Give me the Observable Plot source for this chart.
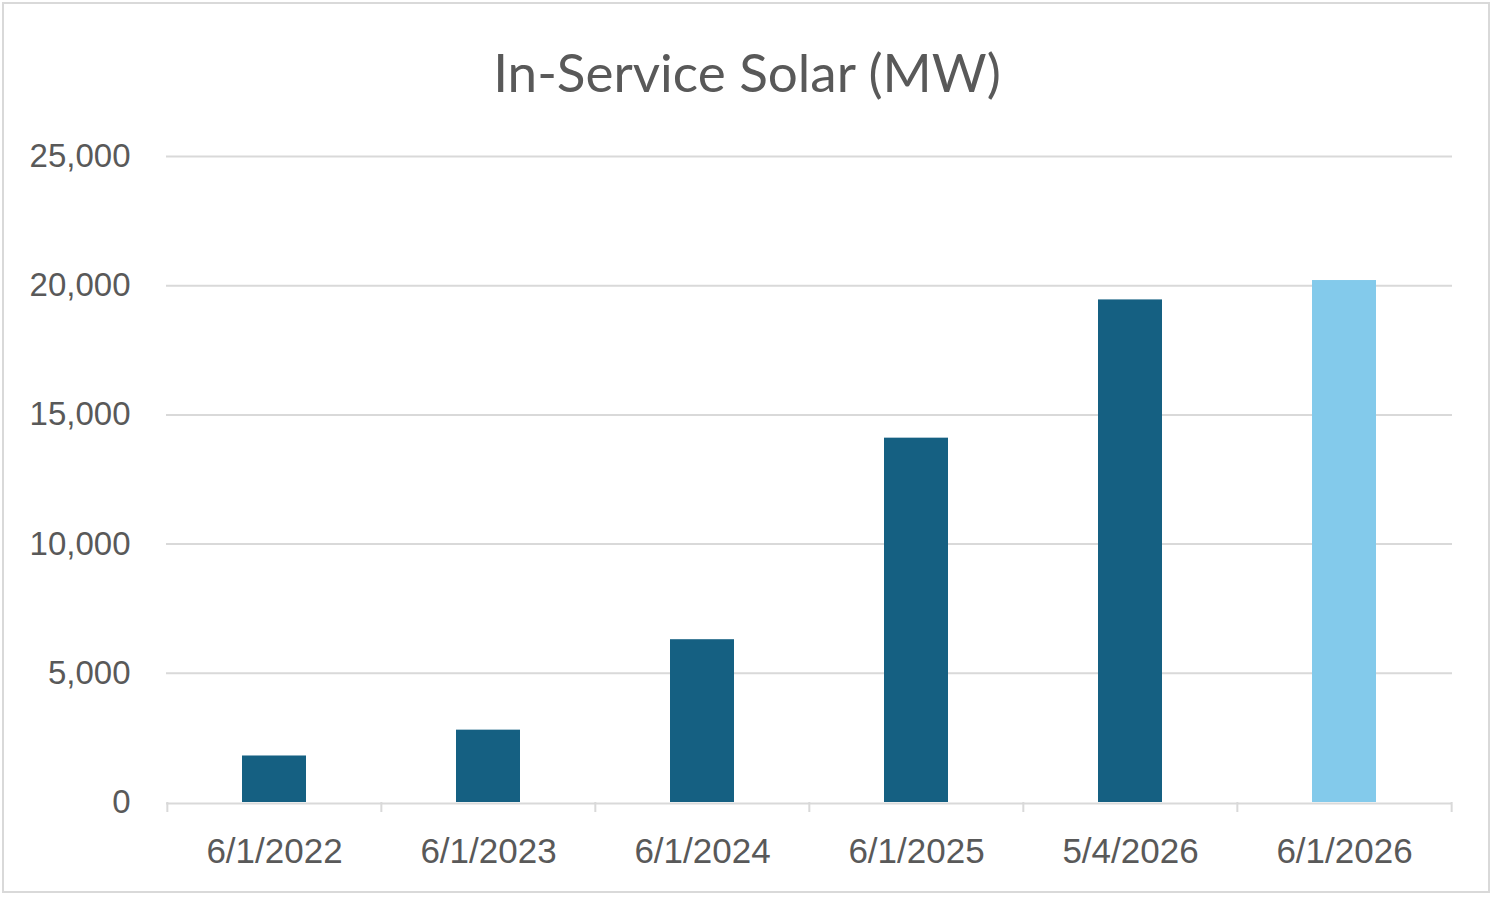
<!DOCTYPE html>
<html>
<head>
<meta charset="utf-8">
<script src="https://cdn.jsdelivr.net/npm/d3@7"></script>
<script src="https://cdn.jsdelivr.net/npm/@observablehq/plot@0.6"></script>
<style>
  html, body { margin: 0; padding: 0; background: #fff; }
  #wrap { position: relative; width: 1494px; height: 897px; overflow: hidden; background: #fff; }
  #title { height: 120px; box-sizing: border-box; padding-top: 45px; text-align: center;
           font-family: Lato, "Noto Sans", sans-serif; font-size: 53px; line-height: 53px; color: #595959; }
  #frame { position: absolute; left: 2px; top: 2px; width: 1488px; height: 891px; box-sizing: border-box;
           border: 2px solid #d9d9d9; pointer-events: none; }
</style>
</head>
<body>
<div id="wrap">
  <div id="title">In-Service Solar (MW)</div>
  <div id="chart"></div>
  <div id="frame"></div>
</div>
<script>
const categories = ["6/1/2022", "6/1/2023", "6/1/2024", "6/1/2025", "5/4/2026", "6/1/2026"];
const values = [1800, 2800, 6300, 14100, 19450, 20200];
const kinds = ["actual", "actual", "actual", "actual", "actual", "projected"];
const yTicks = [0, 5000, 10000, 15000, 20000, 25000];

const data = categories.map((c, i) => ({cat: c, value: values[i], kind: kinds[i]}));

const W = 1494, H = 777, mL = 166, mR = 42, mT = 36, mB = 95;
const step = (W - mL - mR) / categories.length;
const grey = "#d9d9d9", textGrey = "#595959";

const chart = Plot.plot({
  width: W, height: H,
  marginTop: mT, marginBottom: mB, marginLeft: mL, marginRight: mR,
  style: {fontFamily: "'Liberation Sans', Arial, sans-serif", background: "#fff", overflow: "visible"},
  x: {domain: categories, paddingInner: 0.7, paddingOuter: 0.35, label: null},
  y: {domain: [0, 25000], label: null},
  color: {domain: ["actual", "projected"], range: ["#156082", "#83CAEB"]},
  marks: [
    Plot.gridY(yTicks.filter(d => d > 0), {stroke: grey, strokeOpacity: 1, strokeWidth: 2}),
    Plot.axisY(yTicks, {tickSize: 0, tickPadding: 36, tickFormat: d3.format(","), fontSize: 33, fill: textGrey, label: null}),
    Plot.barY(data, {x: "cat", y: "value", fill: "kind"}),
    Plot.ruleY([0], {stroke: grey, strokeWidth: 2, dy: 1}),
    Plot.axisX(categories, {tickSize: 10, tickFormat: () => "", dx: -step / 2, stroke: grey, strokeWidth: 2, strokeOpacity: 1, label: null}),
    Plot.axisX([categories[categories.length - 1]], {tickSize: 10, tickFormat: () => "", dx: step / 2, stroke: grey, strokeWidth: 2, strokeOpacity: 1, label: null}),
    Plot.axisX(categories, {tickSize: 0, tickPadding: 36, fontSize: 35, fill: textGrey, label: null})
  ]
});
document.getElementById("chart").appendChild(chart);
</script>
</body>
</html>
